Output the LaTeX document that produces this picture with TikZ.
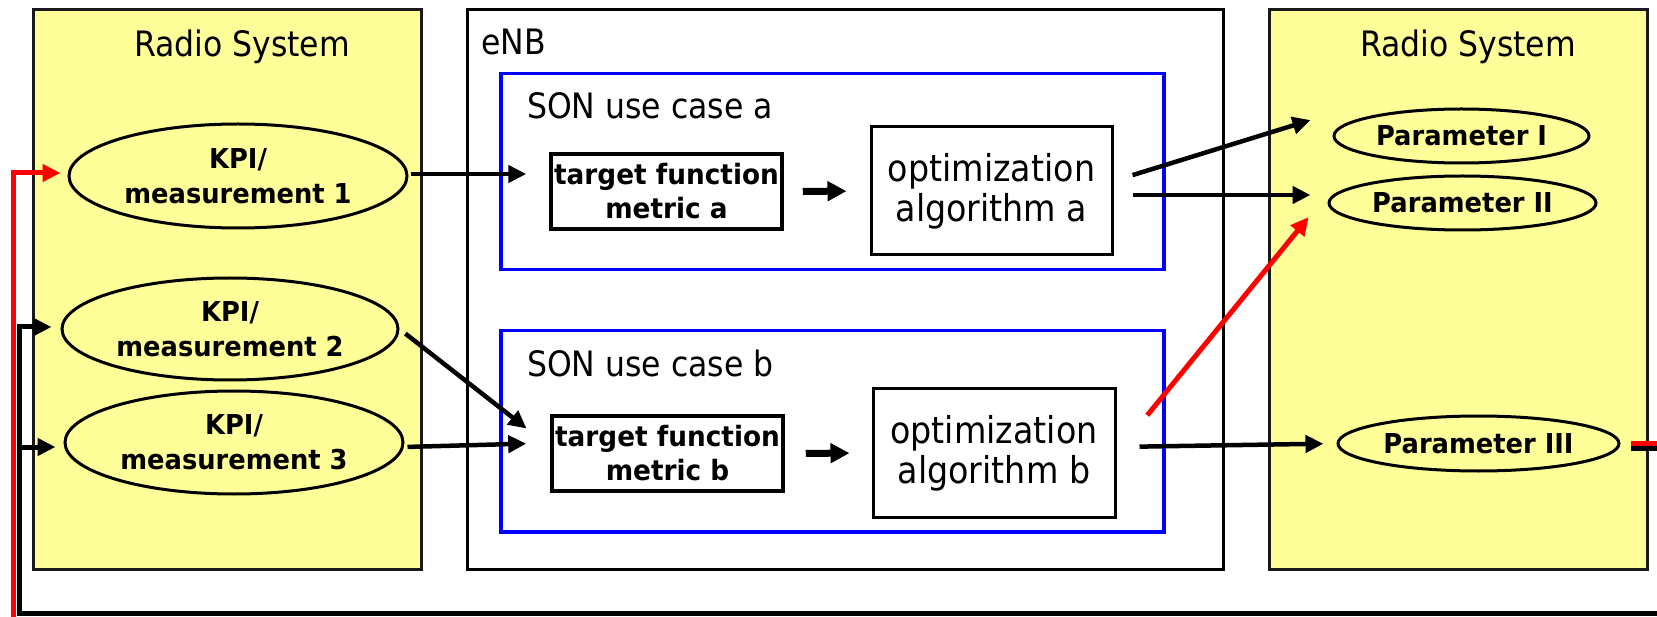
\documentclass[tikz,border=0pt]{standalone}
\usepackage{fontspec}
\usetikzlibrary{arrows.meta,shapes.geometric}
\newfontfamily\regfont[FakeStretch=0.9]{DejaVu Sans}
\newfontfamily\boldfont[FakeStretch=0.94]{DejaVu Sans Bold}
\definecolor{paleyellow}{HTML}{FFFF99}
\definecolor{caseblue}{HTML}{0000FF}
\definecolor{loopred}{HTML}{FF0000}
\tikzset{
  system/.style={draw=black!90, line width=3pt, fill=paleyellow, rectangle, inner sep=0pt, anchor=north west},
  enbbox/.style={draw=black, line width=3pt, rectangle, inner sep=0pt, anchor=north west},
  usecase/.style={draw=caseblue, line width=3.5pt, rectangle, inner sep=0pt, anchor=north west},
  title/.style={font=\regfont\fontsize{35}{40}\selectfont, inner sep=0pt},
  kpi/.style={ellipse, draw, line width=3pt, fill=paleyellow, inner sep=0pt, align=center,
    font=\boldfont\fontsize{27.4}{35}\selectfont},
  param/.style={ellipse, draw, line width=3pt, fill=paleyellow, inner sep=0pt, align=center,
    minimum height=54pt, font=\boldfont\fontsize{27.4}{35}\selectfont},
  target/.style={rectangle, draw, line width=3.5pt, inner sep=0pt, align=center,
    minimum width=231pt, minimum height=75pt, font=\boldfont\fontsize{28}{34}\selectfont},
  optbox/.style={rectangle, draw, line width=3pt, inner sep=0pt, align=center,
    minimum width=241pt, minimum height=128pt, font=\regfont\fontsize{37}{40}\selectfont},
  flow/.style={line width=4.5pt, -{Triangle[length=18pt,width=17pt]}},
  redflow/.style={line width=5pt, draw=loopred},
  stage/.style={line width=7pt, -{Triangle[length=19pt,width=19pt]}},
  loopline/.style={line width=5pt, line join=miter, -{Triangle[length=18pt,width=17pt]}},
}
\begin{document}
\begin{tikzpicture}[x=1pt,y=-1pt]
\useasboundingbox (0,0) rectangle (1657,617);
\clip (0,0) rectangle (1657,617);

% containers
\node[system, minimum width=388pt, minimum height=560pt] (sysL) at (32,8) {};
\node[enbbox, minimum width=756pt, minimum height=560pt] (enb) at (466,8) {};
\node[system, minimum width=378pt, minimum height=560pt] (sysR) at (1268,8) {};
\node[usecase, minimum width=663pt, minimum height=196pt] (ucA) at (499,72) {};
\node[usecase, minimum width=663pt, minimum height=201pt] (ucB) at (499,329) {};

% titles
\node[title, anchor=base] (sysLtitle) at (242,57) {Radio System};
\node[title, anchor=base west] (enbtitle) at (481,55) {eNB};
\node[title, anchor=base] (sysRtitle) at (1468,57) {Radio System};
\node[title, anchor=base west] (ucAtitle) at (527,119) {SON use case a};
\node[title, anchor=base west] (ucBtitle) at (527,377) {SON use case b};

% measurements
\node[kpi, minimum width=338pt, minimum height=104pt] (kpi1) at (238,176) {KPI/\\measurement 1};
\node[kpi, minimum width=336pt, minimum height=102pt] (kpi2) at (230,329) {KPI/\\measurement 2};
\node[kpi, minimum width=338pt, minimum height=103pt] (kpi3) at (234,442.5) {KPI/\\measurement 3};

% use case blocks
\node[target] (tfa) at (666.5,191.5) {target function\\metric a};
\node[target] (tfb) at (667.5,453.5) {target function\\metric b};
\node[optbox] (opta) at (991.5,191) {optimization\\algorithm a};
\node[optbox, minimum width=242pt] (optb) at (994,453) {optimization\\algorithm b};

% parameters
\node[param, minimum width=255pt] (p1) at (1461.5,136) {Parameter I};
\node[param, minimum width=267pt] (p2) at (1462.5,203) {Parameter II};
\node[param, minimum width=281pt, minimum height=55pt] (p3) at (1478.5,443.5) {Parameter III};

% measurements into the use cases
\draw[flow, shorten <=2pt, shorten >=23pt] ([yshift=2pt]kpi1.east) -- ([yshift=17.5pt]tfa.west);
\draw[flow, shorten <=7.5pt, shorten >=30pt] (kpi2.east) -- ([yshift=6.5pt]tfb.west);
\draw[flow, shorten <=3pt, shorten >=24pt] ([yshift=-4.5pt]kpi3.east) -- ([yshift=10.5pt]tfb.west);

% inside the use cases
\draw[stage, shorten <=19pt, shorten >=23pt] (tfa.east) -- (opta.west);
\draw[stage, shorten <=21pt, shorten >=22pt] (tfb.east) -- (optb.west);

% algorithms to parameters
\draw[flow, shorten <=20pt, shorten >=23pt] ([yshift=10pt]opta.east) -- ([yshift=22.7pt]p1.west);
\draw[flow, shorten <=19pt, shorten >=17pt] ([yshift=-4pt]opta.east) -- ([yshift=8pt]p2.west);
\draw[redflow, -{Triangle[length=18pt,width=17pt]}, shorten <=48.7pt, shorten >=29.8pt] (optb.east) -- ([yshift=9pt]p2.west);
\draw[flow, shorten <=23pt, shorten >=13pt] ([yshift=6pt]optb.east) -- (p3.west);

% feedback loops back to the measurements
\coordinate (redcorner) at (13,625);
\coordinate (blackcorner) at (19,613);
\draw[loopline, draw=loopred, line width=5pt, shorten >=7pt]
  ([xshift=10pt,yshift=0.5pt]p3.east) -- ++(90,0) |- (redcorner) |- ([yshift=3pt]kpi1.west);
\draw[loopline, shorten >=9pt]
  ([xshift=10pt,yshift=-4.5pt]p3.east) -- ++(90,0) |- (blackcorner) |- ([yshift=2pt]kpi2.west);
\draw[loopline, shorten >=8pt] (blackcorner) |- ([yshift=-4.5pt]kpi3.west);
\end{tikzpicture}
\end{document}
